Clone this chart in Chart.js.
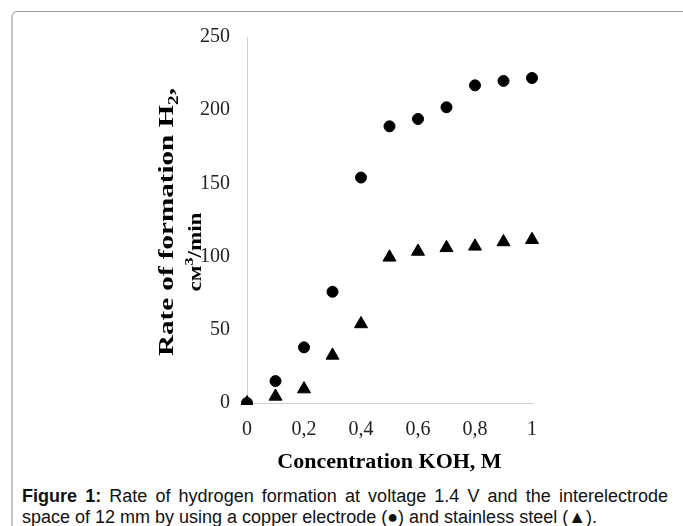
<!DOCTYPE html>
<html>
<head>
<meta charset="utf-8">
<script src="https://cdn.jsdelivr.net/npm/chart.js@4"></script>
<style>
  html, body { margin: 0; padding: 0; background: #fff; }
  body { width: 683px; height: 526px; position: relative; overflow: hidden; }
  #frame {
    position: absolute; left: 11px; top: 11px; width: 720px; height: 560px;
    border-top: 1px solid #9a9a9a; border-left: 2px solid #c4c4c4;
    border-top-left-radius: 6px;
  }
  #wrap { position: absolute; left: 0; top: 0; width: 683px; height: 480px; }
  #caption {
    position: absolute; left: 22px; top: 486px; width: 646px;
    font-family: "Liberation Sans", Arial, sans-serif; font-size: 18px; line-height: 21px;
    color: #111; text-align: justify;
  }
</style>
</head>
<body>
<div id="frame"></div>
<div id="wrap"><canvas id="chart"></canvas></div>
<div id="caption"><b>Figure 1:</b> Rate of hydrogen formation at voltage 1.4 V and the interelectrode space of 12 mm by using a copper electrode (●) and stainless steel (▲).</div>
<script>
// values
const concentration = [0, 0.1, 0.2, 0.3, 0.4, 0.5, 0.6, 0.7, 0.8, 0.9, 1];
const copperRate = [0, 15, 38, 76, 154, 189, 194, 202, 217, 220, 222];
const steelRate = [0, 4.5, 9.5, 32.5, 54, 99.5, 103.5, 106, 107, 110, 111.5];
const yTicks = [0, 50, 100, 150, 200, 250];
const xTicks = [0, 0.2, 0.4, 0.6, 0.8, 1];

const serif = '"Liberation Serif", "Times New Roman", serif';

function toPoints(ys) {
  return concentration.map((x, i) => ({ x: x, y: ys[i] }));
}

// draw a run of text pieces (with sub/superscripts) rotated, stretched to a target length
function drawRuns(ctx, runs, cx, baseX, targetLen) {
  let total = 0;
  runs.forEach(r => {
    ctx.font = 'bold ' + r.size + 'px ' + serif;
    r.w = ctx.measureText(r.t).width;
    total += r.w;
  });
  const k = targetLen / total;
  ctx.save();
  ctx.translate(baseX, cx);
  ctx.rotate(-Math.PI / 2);
  ctx.scale(k, 1);
  ctx.fillStyle = '#000';
  ctx.textBaseline = 'alphabetic';
  let pos = -total / 2;
  runs.forEach(r => {
    ctx.font = 'bold ' + r.size + 'px ' + serif;
    ctx.fillText(r.t, pos, r.dy || 0);
    pos += r.w;
  });
  ctx.restore();
}

const yTitlePlugin = {
  id: 'yTitle',
  afterDraw(chart) {
    const ctx = chart.ctx;
    drawRuns(ctx, [
      { t: 'Rate of formation H', size: 21 },
      { t: '2', size: 14, dy: 5 },
      { t: ',', size: 21 }
    ], 222, 173, 268);
    drawRuns(ctx, [
      { t: 'cм', size: 19 },
      { t: '3', size: 13, dy: -8 },
      { t: '/min', size: 19 }
    ], 252, 201, 79);
  }
};

const ctx = document.getElementById('chart').getContext('2d');
new Chart(ctx, {
  type: 'scatter',
  data: {
    datasets: [
      {
        label: 'copper',
        data: toPoints(copperRate),
        pointStyle: 'circle',
        pointRadius: 5.5,
        pointHoverRadius: 5.5,
        backgroundColor: '#000',
        borderColor: '#000',
        borderWidth: 1,
        clip: { left: false, top: false, right: false, bottom: 2 }
      },
      {
        label: 'stainless steel',
        data: toPoints(steelRate),
        pointStyle: 'triangle',
        pointRadius: 7.5,
        pointHoverRadius: 7.5,
        backgroundColor: '#000',
        borderColor: '#000',
        borderWidth: 1,
        clip: { left: false, top: false, right: false, bottom: 2 }
      }
    ]
  },
  options: {
    responsive: true,
    maintainAspectRatio: false,
    animation: false,
    layout: { padding: { left: 0, right: 151, top: 37, bottom: 0 } },
    plugins: { legend: { display: false }, tooltip: { enabled: false } },
    scales: {
      x: {
        type: 'linear',
        min: 0, max: 1,
        afterBuildTicks: (s) => { s.ticks = xTicks.map(v => ({ value: v })); },
        afterFit: (s) => { s.height = 77; },
        grid: { display: false, drawTicks: false },
        border: { display: true, color: '#cfcfcf', width: 1 },
        ticks: {
          padding: 15,
          color: '#222',
          font: { family: serif, size: 20 },
          callback: (v) => String(v).replace('.', ',')
        },
        title: {
          display: true,
          text: 'Concentration KOH, M',
          color: '#000',
          font: { family: serif, size: 22, weight: 'bold' },
          padding: { top: 4 }
        }
      },
      y: {
        type: 'linear',
        min: 0, max: 250,
        afterBuildTicks: (s) => { s.ticks = yTicks.map(v => ({ value: v })); },
        afterFit: (s) => { s.width = 247; },
        grid: { display: false, drawTicks: false },
        border: { display: true, color: '#cfcfcf', width: 1 },
        ticks: {
          padding: 17,
          color: '#222',
          font: { family: serif, size: 20 }
        }
      }
    }
  },
  plugins: [yTitlePlugin]
});
</script>
</body>
</html>
